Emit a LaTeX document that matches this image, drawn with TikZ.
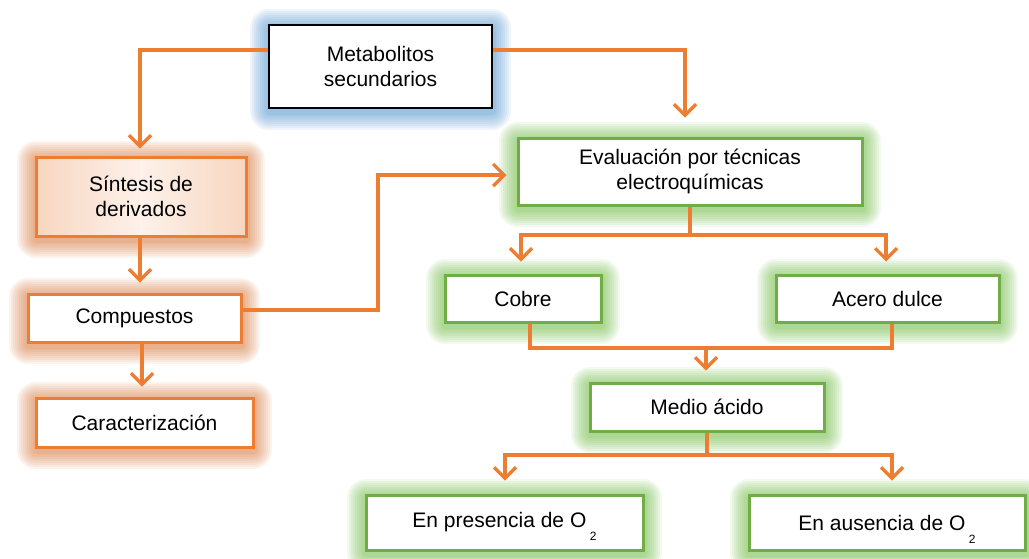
\documentclass[tikz,border=0pt]{standalone}
\usepackage{fontspec}
\setmainfont{Liberation Sans}
\usetikzlibrary{arrows.meta,calc}
\definecolor{lineorange}{HTML}{ED7D31}
\definecolor{boxgreen}{HTML}{70AD47}
\definecolor{glowgreen}{HTML}{74C04A}
\definecolor{glowblue}{HTML}{5B9BD5}
\definecolor{gloworange}{HTML}{DD7E42}
\definecolor{peach}{HTML}{F8D6C0}
\definecolor{peachlight}{HTML}{FDF1EA}
\newcommand{\subtwo}{\,\raisebox{-13pt}[0pt][0pt]{\fontsize{12}{12}\selectfont 2}}
\tikzset{
 box/.style={rectangle, inner sep=0pt, align=center, font=\fontsize{21}{25}\selectfont, fill=white},
 gl/.style 2 args={preaction={draw=#1, line width=#2, opacity=0.09, line join=round, transform canvas={yshift=-3pt}}},
 glow/.style={gl={#1}{38pt}, gl={#1}{34pt}, gl={#1}{30pt}, gl={#1}{26pt}, gl={#1}{22pt}, gl={#1}{18pt}, gl={#1}{14pt}, gl={#1}{10pt}, gl={#1}{7pt}},
 bluebox/.style={box, glow=glowblue, draw=black, line width=2.5pt},
 orangebox/.style={box, glow=gloworange, draw=lineorange, line width=3pt},
 greenbox/.style={box, glow=glowgreen, draw=boxgreen, line width=3pt},
 conn/.style={draw=lineorange, line width=3.2pt},
 arr/.style={conn, -{Straight Barb[length=11pt,width=22pt]}},
}
\begin{document}
\begin{tikzpicture}[x=1pt,y=-1pt]
\fill[white] (0,0) rectangle (1029,558);
\useasboundingbox (0,0) rectangle (1029,558);

% nodes
\node[bluebox, minimum width=223pt, minimum height=83pt] (meta) at (380.5,66.5) {Metabolitos\\secundarios};
\node[orangebox, minimum width=210pt, minimum height=79pt, left color=peach, right color=peach, middle color=peachlight] (sint) at (141,196.5) {Síntesis de\\derivados};
\node[orangebox, minimum width=213pt, minimum height=48pt] (comp) at (134.5,318) {Compuestos};
\node[orangebox, minimum width=217pt, minimum height=49pt] (carac) at (144.5,422.5) {Caracterización};
\node[greenbox, minimum width=344pt, minimum height=67pt] (eval) at (690,171.5) {Evaluación por técnicas\\electroquímicas};
\node[greenbox, minimum width=156pt, minimum height=47pt] (cobre) at (523,298.5) {Cobre};
\node[greenbox, minimum width=223pt, minimum height=47pt] (acero) at (887.5,298.5) {Acero dulce};
\node[greenbox, minimum width=234pt, minimum height=48pt] (medio) at (707,407) {Medio ácido};
\node[greenbox, minimum width=277pt, minimum height=55pt] (pres) at (504.5,522.5) {En presencia de O\subtwo};
\node[greenbox, minimum width=276pt, minimum height=55pt] (aus) at (887,522.5) {En ausencia de O\subtwo};

% connectors
\draw[arr, shorten >=7pt] (meta.west |- 0,50) -| (140,0 |- sint.north);
\draw[arr, shorten >=19pt] (meta.east |- 0,50) -| (685,0 |- eval.north);
\draw[arr, shorten >=10pt] (140,0 |- sint.south) -- (140,0 |- comp.north);
\draw[arr, shorten >=10pt] (142,0 |- comp.south) -- (142,0 |- carac.north);
\draw[arr, shorten >=10pt] (comp.east |- 0,310) -- (378,310) -- (378,175) -- (eval.west |- 0,175);

\draw[conn] (eval.south) -- (eval.south |- 0,235);
\draw[arr, shorten >=12pt] (521,235) -- (886,235) -- (886,0 |- acero.north);
\draw[arr, shorten >=12pt] (eval.south |- 0,235) -| (521,0 |- cobre.north);

\draw[conn] (530,0 |- cobre.south) -- (530,348) -- (892,348) -- (892,0 |- acero.south);
\draw[arr, shorten >=11pt] (706,348) -- (706,0 |- medio.north);

\draw[conn] (medio.south) -- (medio.south |- 0,455);
\draw[arr, shorten >=13pt] (medio.south |- 0,455) -| (505,0 |- pres.north);
\draw[arr, shorten >=13pt] (medio.south |- 0,455) -| (892,0 |- aus.north);
\end{tikzpicture}
\end{document}
